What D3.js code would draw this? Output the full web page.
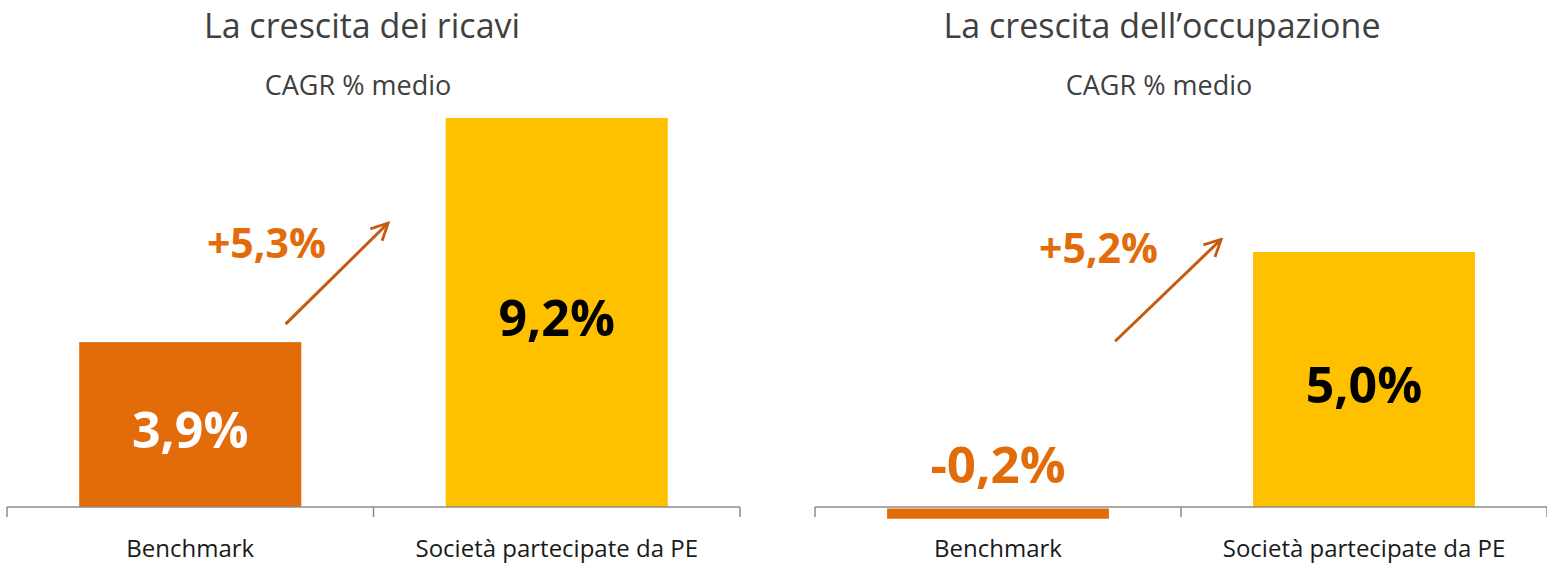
<!DOCTYPE html>
<html>
<head>
<meta charset="utf-8">
<script src="https://cdn.jsdelivr.net/npm/d3@7"></script>
<style>
  body { margin: 0; background: #fff; }
  text { font-family: "Open Sans", "Noto Sans", sans-serif; }
</style>
</head>
<body>
<div id="chart"></div>
<script>
// data
var categories = ["Benchmark", "Società partecipate da PE"];
var titles = ["La crescita dei ricavi", "La crescita dell\u2019occupazione"];
var subtitle = "CAGR % medio";
var revenueValues = [3.9, 9.2];
var employmentValues = [-0.2, 5.0];
var deltaLabels = ["+5,3%", "+5,2%"];
var yMax = [9.2, 5.0];

var fmt = function(v) { return v.toFixed(1).replace(".", ",") + "%"; };

var W = 1547, H = 570;
var svg = d3.select("#chart").append("svg")
    .attr("width", W)
    .attr("height", H);

var defs = svg.append("defs");
defs.append("marker")
    .attr("id", "arrowhead")
    .attr("viewBox", "0 0 10 10")
    .attr("refX", 9).attr("refY", 5)
    .attr("markerWidth", 7).attr("markerHeight", 7)
    .attr("orient", "auto")
  .append("path")
    .attr("d", "M1,1 L9,5 L1,9")
    .attr("fill", "none")
    .attr("stroke", "#c55a11")
    .attr("stroke-width", 1.3);

var panels = [
  { left: 7, right: 740, top: 118, base: 507, values: revenueValues, title: titles[0], delta: deltaLabels[0], max: yMax[0],
    titleX: 362, subX: 358, arrow: [[0.38, 0.47], [0.52, 0.73]], deltaPos: [0.435, 0.64] },
  { left: 815, right: 1547, top: 252, base: 507, values: employmentValues, title: titles[1], delta: deltaLabels[1], max: yMax[1],
    titleX: 1162, subX: 1159, arrow: [[0.41, 0.65], [0.555, 1.05]], deltaPos: [0.4686, 0.957] }
];

var colors = ["#e36c0a", "#ffc000"];
var labelColors = ["#ffffff", "#000000"];

panels.forEach(function(p) {
  var g = svg.append("g");

  var x = d3.scaleBand()
      .domain(categories)
      .range([p.left, p.right])
      .paddingInner(0.394)
      .paddingOuter(0.197);

  var y = d3.scaleLinear()
      .domain([0, p.max])
      .range([p.base, p.top]);

  // titles
  g.append("text")
      .attr("x", p.titleX).attr("y", 38)
      .attr("text-anchor", "middle")
      .attr("font-size", 34)
      .attr("fill", "#404040")
      .text(p.title);

  g.append("text")
      .attr("x", p.subX).attr("y", 95)
      .attr("text-anchor", "middle")
      .attr("font-size", 27)
      .attr("fill", "#404040")
      .text(subtitle);

  // bars
  g.selectAll(".bar")
    .data(p.values)
  .enter().append("rect")
      .attr("class", "bar")
      .attr("x", function(d, i) { return x(categories[i]); })
      .attr("width", x.bandwidth())
      .attr("y", function(d) { return d >= 0 ? y(d) : y(0) + 1.5; })
      .attr("height", function(d) { return Math.abs(y(d) - y(0)); })
      .attr("fill", function(d, i) { return colors[i]; });

  // axis (band ticks at category boundaries)
  var axisLine = d3.scalePoint().domain([0, 1, 2]).range([p.left, p.right]);
  g.append("line")
      .attr("x1", p.left).attr("x2", p.right)
      .attr("y1", p.base).attr("y2", p.base)
      .attr("stroke", "#8c8c8c").attr("stroke-width", 1.5);
  g.selectAll(".tick")
    .data(axisLine.domain())
  .enter().append("line")
      .attr("x1", function(d) { return axisLine(d); })
      .attr("x2", function(d) { return axisLine(d); })
      .attr("y1", p.base).attr("y2", p.base + 10)
      .attr("stroke", "#8c8c8c").attr("stroke-width", 1.5);

  g.selectAll(".cat")
    .data(categories)
  .enter().append("text")
      .attr("x", function(d) { return x(d) + x.bandwidth() / 2; })
      .attr("y", 557)
      .attr("text-anchor", "middle")
      .attr("font-size", 24)
      .attr("fill", "#1a1a1a")
      .text(function(d) { return d; });

  // value labels
  g.selectAll(".val")
    .data(p.values)
  .enter().append("text")
      .attr("x", function(d, i) { return x(categories[i]) + x.bandwidth() / 2; })
      .attr("y", function(d) { return d >= 0 ? (y(d) + y(0)) / 2 + 23 : y(0) - 24; })
      .attr("text-anchor", "middle")
      .attr("font-size", function(d) { return d >= 0 ? 50 : 51; })
      .attr("font-weight", 700)
      .attr("fill", function(d, i) { return d >= 0 ? labelColors[i] : colors[0]; })
      .text(fmt);

  // delta arrow and label, placed in band / value units
  var bx = function(f) { return p.left + f * (p.right - p.left); };
  var vy = function(f) { return y(f * p.max); };
  g.append("line")
      .attr("x1", bx(p.arrow[0][0])).attr("y1", vy(p.arrow[0][1]))
      .attr("x2", bx(p.arrow[1][0])).attr("y2", vy(p.arrow[1][1]))
      .attr("stroke", "#c55a11")
      .attr("stroke-width", 3)
      .attr("marker-end", "url(#arrowhead)");

  g.append("text")
      .attr("x", bx(p.deltaPos[0])).attr("y", vy(p.deltaPos[1]))
      .attr("text-anchor", "end")
      .attr("font-size", 41)
      .attr("font-weight", 700)
      .attr("fill", "#e36c0a")
      .text(p.delta);
});
</script>
</body>
</html>
